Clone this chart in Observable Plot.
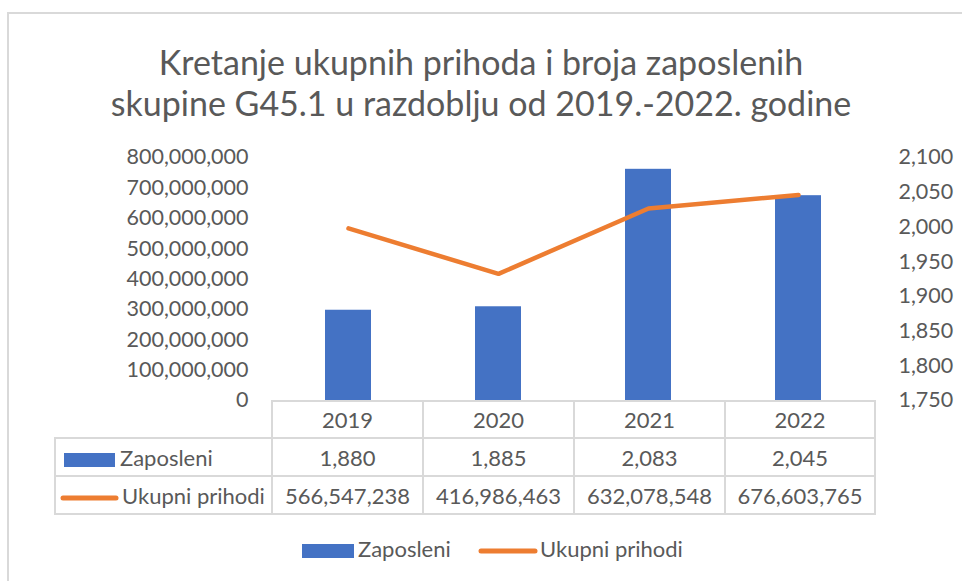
<!DOCTYPE html>
<html>
<head>
<meta charset="utf-8">
<script src="https://cdn.jsdelivr.net/npm/d3@7"></script>
<script src="https://cdn.jsdelivr.net/npm/@observablehq/plot@0.6"></script>
<style>
  html, body { margin: 0; padding: 0; background: #fff; }
  #chart { position: relative; width: 962px; height: 581px; overflow: hidden; font-family: Lato, "Open Sans", sans-serif; color: #595959; }
  #frame { position: absolute; left: 7px; top: 12px; width: 980px; height: 600px; border: 2px solid #d9d9d9; box-sizing: border-box; }
  #title { position: absolute; left: 0; width: 962px; top: 41px; text-align: center; font-size: 34px; line-height: 41px; }
  .layer { position: absolute; left: 0; top: 140px; }
  table { position: absolute; left: 54px; top: 400px; border-collapse: collapse; font-size: 22px; color: #595959; }
  td { border: 2px solid #d9d9d9; text-align: center; padding: 0; box-sizing: border-box; }
  td.empty { border-top: none; border-left: none; }
  td.lab { text-align: left; white-space: nowrap; }
  .key { display: inline-block; vertical-align: middle; margin-right: 5px; }
  #legend { position: absolute; top: 535px; left: 0; width: 962px; font-size: 22px; }
  #legend .item { position: absolute; top: 0; white-space: nowrap; }
</style>
</head>
<body>
<div id="chart">
  <div id="frame"></div>
  <div id="title">Kretanje ukupnih prihoda i broja zaposlenih<br>skupine G45.1 u razdoblju od 2019.-2022. godine</div>
</div>
<script>
const years = ["2019", "2020", "2021", "2022"];
const zaposleni = [1880, 1885, 2083, 2045];
const prihodi = [566547238, 416986463, 632078548, 676603765];
const leftTicks = [0, 100000000, 200000000, 300000000, 400000000, 500000000, 600000000, 700000000, 800000000];
const rightTicks = [1750, 1800, 1850, 1900, 1950, 2000, 2050, 2100];
const seriesNames = ["Zaposleni", "Ukupni prihodi"];

const BLUE = "#4472C4", ORANGE = "#ED7D31", TEXT = "#595959", GRID = "#d9d9d9";
const rows = years.map((y, i) => ({year: y, emp: zaposleni[i], rev: prihodi[i]}));
const fmt = d3.format(",");

const common = {
  width: 962, height: 280, marginTop: 17, marginBottom: 20, marginLeft: 271, marginRight: 88,
  style: {fontFamily: "Lato, 'Open Sans', sans-serif", fontSize: "21.5px", color: TEXT, background: "transparent", overflow: "visible"}
};

// Layer 1: gridlines + left axis (revenue scale)
const gridPlot = Plot.plot({
  ...common,
  x: {domain: years, type: "point", padding: 0.5, axis: null},
  y: {domain: [0, 800000000], axis: null},
  marks: [
    Plot.gridY(leftTicks.filter(d => d > 0), {stroke: GRID, strokeOpacity: 1, strokeWidth: 2, x1: 271, x2: 874}),
    Plot.axisY(leftTicks, {anchor: "left", label: null, tickSize: 0, tickPadding: 23, tickFormat: fmt, fill: TEXT, fontSize: 21.5})
  ]
});

// Layer 2: bars + right axis (employee scale)
const barPlot = Plot.plot({
  ...common,
  x: {domain: years, padding: 0, axis: null},
  y: {domain: [1750, 2100], axis: null},
  marks: [
    Plot.barY(rows, {x: "year", y1: 1750, y2: "emp", fill: BLUE, insetLeft: 52, insetRight: 52}),
    Plot.axisY(rightTicks, {anchor: "right", label: null, tickSize: 0, tickPadding: 24, tickFormat: fmt, fill: TEXT, fontSize: 21.5})
  ]
});

// Layer 3: revenue line
const linePlot = Plot.plot({
  ...common,
  x: {domain: years, type: "point", padding: 0.5, axis: null},
  y: {domain: [0, 800000000], axis: null},
  marks: [
    Plot.line(rows, {x: "year", y: "rev", stroke: ORANGE, strokeWidth: 4.5, strokeLinecap: "round", strokeLinejoin: "round"})
  ]
});

const chart = document.getElementById("chart");
for (const p of [gridPlot, barPlot, linePlot]) {
  p.classList.add("layer");
  chart.appendChild(p);
}

// Data table
const swatchBar = `<svg class="key" width="51" height="14" style="margin-left:8px"><rect width="51" height="14" fill="${BLUE}"/></svg>`;
const swatchLine = `<svg class="key" width="60" height="8" style="margin-left:4px;margin-right:2px"><line x1="3" y1="4" x2="56" y2="4" stroke="${ORANGE}" stroke-width="5" stroke-linecap="round"/></svg>`;
const colW = [217, 151, 151, 151, 150];
let html = `<table><colgroup>${colW.map(w => `<col style="width:${w}px">`).join("")}</colgroup>`;
html += `<tr style="height:37px"><td class="empty"></td>${years.map(y => `<td>${y}</td>`).join("")}</tr>`;
html += `<tr style="height:38px"><td class="lab">${swatchBar}${seriesNames[0]}</td>${zaposleni.map(v => `<td>${fmt(v)}</td>`).join("")}</tr>`;
html += `<tr style="height:38px"><td class="lab">${swatchLine}${seriesNames[1]}</td>${prihodi.map(v => `<td>${fmt(v)}</td>`).join("")}</tr>`;
html += `</table>`;
chart.insertAdjacentHTML("beforeend", html);

// Legend
const legend = document.createElement("div");
legend.id = "legend";
legend.innerHTML =
  `<span class="item" style="left:302px"><svg width="52" height="14" style="vertical-align:middle;margin-right:4px"><rect width="52" height="14" fill="${BLUE}"/></svg>${seriesNames[0]}</span>` +
  `<span class="item" style="left:478px"><svg width="60" height="8" style="vertical-align:middle;margin-right:2px"><line x1="3" y1="4" x2="57" y2="4" stroke="${ORANGE}" stroke-width="5" stroke-linecap="round"/></svg>${seriesNames[1]}</span>`;
chart.appendChild(legend);
</script>
</body>
</html>
